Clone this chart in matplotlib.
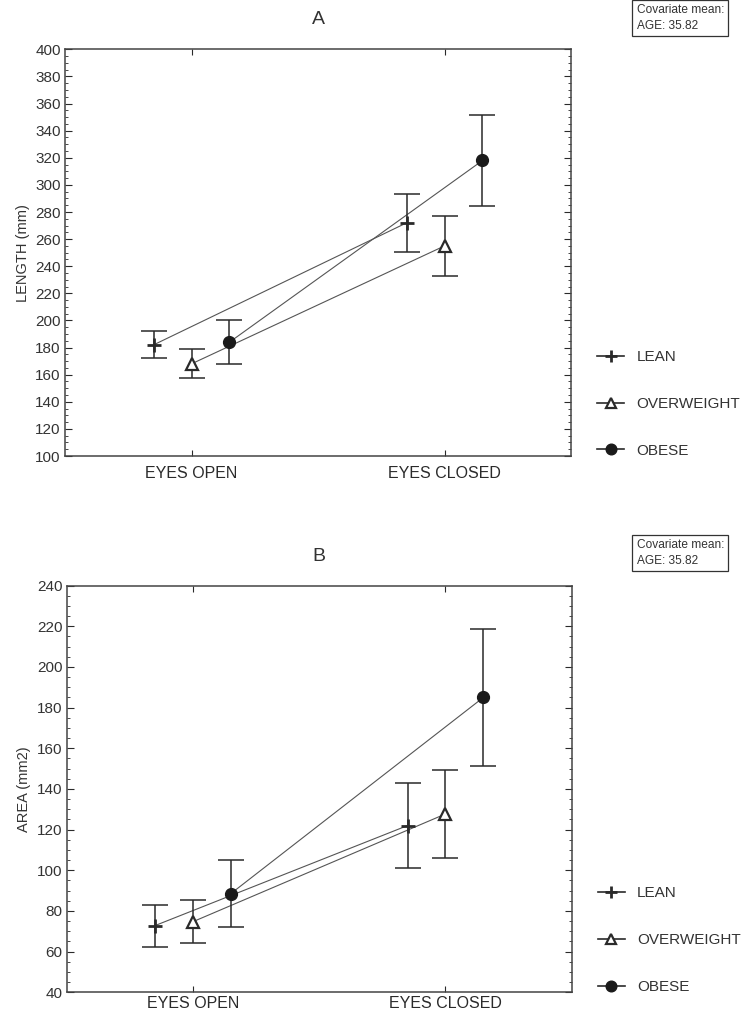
import matplotlib
matplotlib.use("Agg")
import matplotlib.pyplot as plt
from matplotlib.ticker import MultipleLocator

plt.rcParams['font.family'] = ['Liberation Sans', 'DejaVu Sans']

conditions = ["EYES OPEN", "EYES CLOSED"]
groups = ["LEAN", "OVERWEIGHT", "OBESE"]
markers = ["+", "^", "o"]
offsets = [-0.15, 0.0, 0.15]

# panel A: sway path length (mm)
length_mean = {"LEAN": [182, 272], "OVERWEIGHT": [168, 255], "OBESE": [184, 318]}
length_err = {"LEAN": [10, 21.5], "OVERWEIGHT": [10.7, 22], "OBESE": [16, 33.5]}

# panel B: sway area (mm2)
area_mean = {"LEAN": [72.8, 122], "OVERWEIGHT": [74.7, 127.7], "OBESE": [88.5, 185]}
area_err = {"LEAN": [10.3, 20.7], "OVERWEIGHT": [10.6, 21.7], "OBESE": [16.5, 33.5]}

covariate_text = "Covariate mean:\nAGE: 35.82"

fig = plt.figure(figsize=(7.49, 10.15), dpi=100)
ax1 = fig.add_axes([0.0868, 0.5507, 0.6756, 0.4007])
ax2 = fig.add_axes([0.0890, 0.0224, 0.6743, 0.4006])

dark = "#2a2a2a"
text_col = "#333333"


def draw_panel(ax, means, errs, ylim, major, minor, ylabel, title, xpad):
    handles = []
    for g, m, off in zip(groups, markers, offsets):
        xs = [i + off for i in range(len(conditions))]
        ax.plot(xs, means[g], color="#555555", lw=0.8, zorder=2)
        ax.errorbar(xs, means[g], yerr=errs[g], fmt="none", ecolor=dark,
                    elinewidth=1.1, capsize=9.4, capthick=1.1, zorder=3)
        if m == "+":
            h, = ax.plot(xs, means[g], ls="none", marker="+", ms=10, mew=2,
                         color=dark, zorder=4)
        elif m == "^":
            h, = ax.plot(xs, means[g], ls="none", marker="^", ms=8, mew=1.6,
                         mfc="white", mec=dark, zorder=4)
        else:
            h, = ax.plot(xs, means[g], ls="none", marker="o", ms=8.5,
                         color="#1a1a1a", zorder=4)
        handles.append(h)
    ax.set_xlim(-0.5, 1.5)
    ax.set_ylim(*ylim)
    ax.set_xticks(range(len(conditions)))
    ax.set_xticklabels(conditions, fontsize=11.5, color=text_col)
    ax.yaxis.set_major_locator(MultipleLocator(major))
    ax.yaxis.set_minor_locator(MultipleLocator(minor))
    ax.tick_params(axis="both", which="both", direction="in",
                   top=True, right=True, colors=dark)
    ax.tick_params(axis="y", which="major", length=5, labelsize=11,
                   labelcolor=text_col, pad=3)
    ax.tick_params(axis="y", which="minor", length=2.5)
    ax.tick_params(axis="x", which="major", length=4, pad=xpad)
    for s in ax.spines.values():
        s.set_color("#444444")
        s.set_linewidth(1.1)
    ax.set_ylabel(ylabel, fontsize=10.5, color=text_col, labelpad=4)
    ax.set_title(title, fontsize=14, color=text_col, pad=18)

    leg_handles = []
    for h in handles:
        lh, = ax.plot([], [], color=dark, lw=1.2, marker=h.get_marker(),
                      ms=h.get_markersize() * 0.9, mew=h.get_markeredgewidth(),
                      mfc=h.get_markerfacecolor(), mec=h.get_markeredgecolor())
        leg_handles.append(lh)
    leg = ax.legend(leg_handles, groups, loc="lower left",
                    bbox_to_anchor=(1.025, -0.038), frameon=False,
                    fontsize=11, handlelength=1.75, handletextpad=0.8,
                    labelspacing=2.15)
    for t in leg.get_texts():
        t.set_color(text_col)


draw_panel(ax1, length_mean, length_err, (100, 400), 20, 5, "LENGTH (mm)", "A", 7)
draw_panel(ax2, area_mean, area_err, (40, 240), 20, 5, "AREA (mm2)", "B", 3)

for y in [0.982, 0.455]:
    fig.text(0.850, y, covariate_text, fontsize=8.6, color=text_col,
             va="center", ha="left", linespacing=1.4,
             bbox=dict(boxstyle="square,pad=0.35", fc="white", ec="#333333", lw=0.9))

fig.savefig("out.png", dpi=100)
